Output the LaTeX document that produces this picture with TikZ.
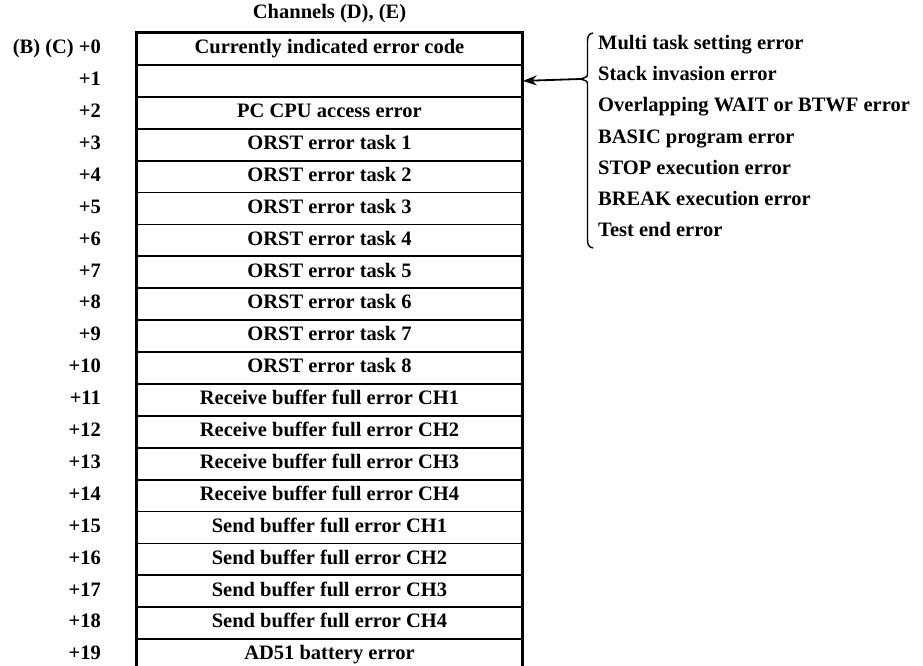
\documentclass[tikz,border=0pt]{standalone}
\usepackage{fontspec}
\setmainfont{Liberation Serif}
\usetikzlibrary{arrows.meta}
\begin{document}
\begin{tikzpicture}[x=1pt,y=-1pt,
  txt/.style={font=\fontsize{20.5}{23}\selectfont\bfseries, inner sep=0pt,
    text height=14pt, text depth=4.5pt},
  cell/.style={txt, draw, line width=1.8pt, minimum width=385pt, minimum height=31.9pt},
  frame/.style={line width=2.6pt},
  offs/.style={txt, anchor=east},
  cause/.style={txt, anchor=west},
  link/.style={line width=1.8pt, -{Stealth[length=14pt,width=10pt]}},
  bracel/.style={line width=1.4pt}]
\useasboundingbox (0,0) rectangle (923,665);

% column heading
\node[txt] (head) at (329.5,14) {Channels (D), (E)};

% the twenty words of the error table with their offsets
\foreach \t [count=\i from 0] in {
  Currently indicated error code, {},
  PC CPU access error,
  ORST error task 1, ORST error task 2, ORST error task 3, ORST error task 4,
  ORST error task 5, ORST error task 6, ORST error task 7, ORST error task 8,
  Receive buffer full error CH1, Receive buffer full error CH2,
  Receive buffer full error CH3, Receive buffer full error CH4,
  Send buffer full error CH1, Send buffer full error CH2,
  Send buffer full error CH3, Send buffer full error CH4,
  AD51 battery error} {
  \node[cell] (r\i) at (329.5,{49+31.9*\i}) {\t};
  \ifnum\i=0
    \node[offs] (l\i) at (101,{49+31.9*\i}) {(B) (C) +0};
  \else
    \node[offs] (l\i) at (101,{49+31.9*\i}) {+\i};
  \fi
}

% heavier outer frame
\draw[frame] (r19.south west) -- (r0.north west) -- (r0.north east) -- (r19.south east);

% causes collected into word +1
\foreach \t [count=\j from 0] in {
  Multi task setting error, Stack invasion error,
  Overlapping WAIT or BTWF error, BASIC program error,
  STOP execution error, BREAK execution error, Test end error} {
  \node[cause] (c\j) at (598,{45+31.1*\j}) {\t};
}

% brace grouping the causes
\coordinate (btop) at (593,33);
\coordinate (bbot) at (593,248);
\coordinate (btip) at (580,79);
\draw[bracel] (btop) .. controls (588,34) and (587.5,37) .. (587.5,42)
  -- (587.5,73) .. controls (587.5,77) .. (btip)
  .. controls (587.5,81) .. (587.5,85)
  -- (587.5,239) .. controls (587.5,244) and (588,247) .. (bbot);

% arrow into word +1
\draw[link] (btip) -- (r1.east);
\end{tikzpicture}
\end{document}
